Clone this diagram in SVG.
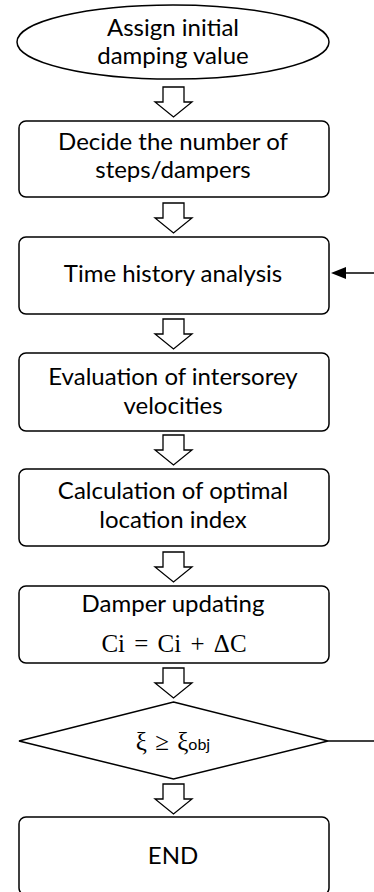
<svg xmlns="http://www.w3.org/2000/svg" width="374" height="892" viewBox="0 0 374 892">
<style>
.s{fill:#fff;stroke:#000;stroke-width:1.5}
.t{font-family:Lato,"Open Sans","Liberation Sans",sans-serif;font-size:24px;fill:#000;text-anchor:middle}
.m{font-family:"Liberation Serif","DejaVu Serif",serif;font-size:25px;fill:#000;text-anchor:middle}
.a{fill:#fff;stroke:#000;stroke-width:1.3;stroke-linejoin:miter}
.l{fill:none;stroke:#000;stroke-width:1.5}
</style>
<defs>
<path id="blk" d="M163,0 H184 V15 H192 L173.5,30 L155,15 H163 Z"/>
</defs>
<rect width="374" height="892" fill="#fff"/>
<g id="n1"><ellipse class="s" cx="173" cy="42" rx="156" ry="37"/><text class="t" x="173" y="36">Assign initial</text><text class="t" x="173" y="64">damping value</text></g>
<g id="n2"><rect class="s" x="19" y="121" width="310" height="76" rx="7"/><text class="t" x="173" y="150">Decide the number of</text><text class="t" x="173" y="178">steps/dampers</text></g>
<g id="n3"><rect class="s" x="19" y="237" width="310" height="77" rx="7"/><text class="t" x="173" y="282">Time history analysis</text></g>
<g id="n4"><rect class="s" x="19" y="353" width="310" height="78" rx="7"/><text class="t" x="173" y="385">Evaluation of intersorey</text><text class="t" x="173" y="414">velocities</text></g>
<g id="n5"><rect class="s" x="19" y="469" width="310" height="77" rx="7"/><text class="t" x="173" y="499">Calculation of optimal</text><text class="t" x="173" y="528">location index</text></g>
<g id="n6"><rect class="s" x="19" y="586" width="310" height="77" rx="7"/><text class="t" x="173" y="612">Damper updating</text><text class="m" x="174" y="652" word-spacing="3">Ci = Ci + ΔC</text></g>
<g id="n7"><polygon class="s" points="173.5,702 328,741 173.5,779 19,741"/><text class="m" x="173" y="750" word-spacing="2">ξ ≥ ξ<tspan font-family="Lato,sans-serif" font-size="16">obj</tspan></text></g>
<g id="n8"><rect class="s" x="19" y="817" width="310" height="78" rx="7"/><text class="t" x="173" y="864">END</text></g>
<g id="connectors">
<use href="#blk" class="a" y="87"/>
<use href="#blk" class="a" y="203"/>
<use href="#blk" class="a" y="319"/>
<use href="#blk" class="a" y="435"/>
<use href="#blk" class="a" y="552"/>
<use href="#blk" class="a" y="668"/>
<use href="#blk" class="a" y="784"/>
<line class="l" x1="328" y1="741" x2="374" y2="741"/>
<line class="l" x1="344" y1="273" x2="374" y2="273"/>
<path d="M331,273 L346,267 L346,279 Z" fill="#000"/>
</g>
</svg>
